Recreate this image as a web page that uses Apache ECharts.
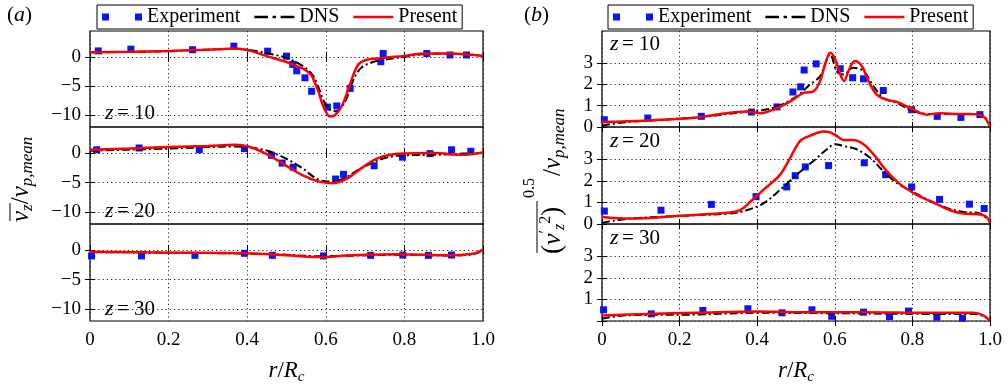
<!DOCTYPE html>
<html>
<head>
<meta charset="utf-8">
<script src="https://cdn.jsdelivr.net/npm/echarts@6/dist/echarts.min.js"></script>
<style>
html, body { margin: 0; padding: 0; background: #fff; }
#container { width: 1008px; height: 387px; }
</style>
</head>
<body>
<div id="container"></div>
<script>
var dom = document.getElementById('container');
var myChart = echarts.init(dom);

var FONT = 'Liberation Serif';

// axis ticks
var xTicks = [0, 0.2, 0.4, 0.6, 0.8, 1.0];
var ticksA = [-10, -5, 0];
var ticksB = [0, 1, 2, 3];
var ticksB3 = [1, 2, 3];
var zNames = ['10', '20', '30'];

// (a) mean axial velocity, z = 10
var aExp10 = [[0.021,1.0],[0.104,1.3],[0.261,1.2],[0.366,1.8],[0.452,0.95],[0.500,0.1],[0.516,-1.3],[0.526,-2.4],[0.547,-3.6],[0.564,-5.9],[0.604,-8.6],[0.628,-8.4],[0.662,-5.4],[0.740,-0.85],[0.746,0.55],[0.857,0.55],[0.916,0.3],[0.958,0.3]];
var aDns10 = [[0,0.75],[0.2,0.95],[0.369,1.35],[0.41,1.1],[0.45,0.6],[0.5,-0.2],[0.54,-1.5],[0.565,-3.0],[0.58,-5.0],[0.595,-7.6],[0.61,-9.0],[0.625,-9.3],[0.64,-8.6],[0.655,-6.8],[0.67,-4.0],[0.69,-1.9],[0.72,-0.9],[0.75,-0.5],[0.78,-0.2],[0.82,0.2],[0.86,0.5],[0.92,0.5],[0.96,0.4],[1.0,0.2]];
var aPre10 = [[0,0.75],[0.1,0.85],[0.2,1.0],[0.3,1.2],[0.369,1.4],[0.403,1.1],[0.45,0.1],[0.5,-0.9],[0.53,-1.7],[0.547,-2.2],[0.556,-2.7],[0.564,-3.2],[0.572,-4.4],[0.581,-5.9],[0.594,-8.5],[0.611,-10.2],[0.623,-10.0],[0.64,-8.5],[0.657,-5.6],[0.67,-3.1],[0.683,-1.3],[0.70,-0.6],[0.73,-0.3],[0.76,-0.1],[0.8,0.15],[0.852,0.55],[0.92,0.55],[0.96,0.4],[1.0,0.15]];

// (a) z = 20
var aExp20 = [[0.017,0.55],[0.125,0.85],[0.278,0.55],[0.393,0.75],[0.462,-0.4],[0.489,-1.7],[0.517,-2.4],[0.625,-4.4],[0.645,-3.6],[0.723,-2.15],[0.795,-0.7],[0.865,-0.1],[0.92,0.55],[0.969,0.3]];
var aDns20 = [[0,0.4],[0.2,0.75],[0.369,1.1],[0.445,0.5],[0.496,-0.85],[0.539,-2.5],[0.581,-4.5],[0.615,-4.8],[0.649,-4.2],[0.691,-2.5],[0.75,-0.85],[0.793,-0.4],[0.88,-0.3],[0.95,-0.1],[1.0,0.0]];
var aPre20 = [[0,0.55],[0.1,0.75],[0.2,1.0],[0.3,1.2],[0.369,1.4],[0.403,1.1],[0.445,0],[0.496,-2.0],[0.539,-3.7],[0.581,-4.8],[0.615,-5.1],[0.649,-4.5],[0.691,-2.55],[0.733,-0.85],[0.793,-0.1],[0.878,0],[0.946,-0.3],[1.0,0.1]];

// (a) z = 30
var aExp30 = [[0.004,-1.0],[0.131,-1.0],[0.267,-0.9],[0.393,-0.56],[0.464,-0.9],[0.594,-1.0],[0.714,-0.9],[0.796,-0.85],[0.861,-0.9],[0.92,-0.85]];
var aDns30 = [[0,-0.35],[0.2,-0.45],[0.4,-0.6],[0.5,-0.8],[0.58,-1.05],[0.666,-0.95],[0.79,-0.8],[0.92,-0.95],[0.965,-0.8],[0.985,-0.5],[1.0,0.05]];
var aPre30 = [[0,-0.3],[0.2,-0.45],[0.4,-0.56],[0.5,-0.9],[0.58,-1.2],[0.666,-0.9],[0.79,-0.73],[0.92,-0.9],[0.963,-0.73],[0.984,-0.45],[1.0,0.1]];

// (b) rms axial velocity, z = 10
var bExp10 = [[0.006,0.34],[0.118,0.42],[0.256,0.5],[0.385,0.7],[0.451,0.94],[0.492,1.64],[0.512,1.88],[0.521,2.67],[0.552,2.96],[0.614,2.73],[0.646,2.31],[0.674,2.26],[0.725,1.71],[0.798,0.81],[0.864,0.5],[0.925,0.45],[0.974,0.58]];
var bDns10 = [[0,0.06],[0.04,0.18],[0.116,0.3],[0.245,0.45],[0.373,0.72],[0.416,0.8],[0.451,0.95],[0.502,1.44],[0.536,1.99],[0.562,2.38],[0.588,3.4],[0.605,2.62],[0.622,2.46],[0.648,2.78],[0.674,2.62],[0.7,1.91],[0.725,1.36],[0.76,1.13],[0.8,0.76],[0.845,0.61],[0.93,0.61],[0.975,0.6],[1.0,0.1]];
var bPre10 = [[0,0.23],[0.116,0.31],[0.245,0.45],[0.373,0.73],[0.408,0.65],[0.451,0.89],[0.485,1.2],[0.519,1.6],[0.545,1.67],[0.562,2.15],[0.575,2.93],[0.588,3.48],[0.601,3.17],[0.614,2.46],[0.624,2.15],[0.635,2.62],[0.652,3.09],[0.67,2.85],[0.687,2.15],[0.708,1.52],[0.734,1.28],[0.76,1.17],[0.794,0.89],[0.837,0.58],[0.871,0.65],[0.906,0.61],[0.948,0.61],[0.979,0.54],[1.0,0.03]];

// (b) z = 20
var bExp20 = [[0.006,0.6],[0.152,0.64],[0.282,0.91],[0.397,1.27],[0.476,1.72],[0.498,2.24],[0.524,2.65],[0.584,2.71],[0.676,2.84],[0.731,2.29],[0.798,1.72],[0.87,1.14],[0.947,0.92],[0.985,0.72]];
var bDns20 = [[0,0.06],[0.073,0.25],[0.243,0.41],[0.33,0.49],[0.373,0.64],[0.416,0.96],[0.459,1.58],[0.502,2.29],[0.545,2.92],[0.579,3.46],[0.601,3.7],[0.622,3.62],[0.657,3.46],[0.691,3.07],[0.725,2.45],[0.76,1.9],[0.8,1.5],[0.845,1.07],[0.888,0.75],[0.931,0.56],[0.974,0.49],[1.0,0.09]];
var bPre20 = [[0,0.33],[0.073,0.25],[0.2,0.38],[0.33,0.53],[0.356,0.64],[0.382,1.03],[0.416,1.58],[0.459,2.29],[0.485,3.07],[0.511,3.86],[0.536,4.09],[0.571,4.29],[0.588,4.25],[0.605,4.09],[0.622,3.9],[0.648,3.9],[0.674,3.7],[0.7,3.23],[0.734,2.45],[0.768,1.85],[0.811,1.35],[0.854,1.0],[0.897,0.64],[0.931,0.49],[0.974,0.44],[0.991,0.33],[1.0,0.06]];

// (b) z = 30
var bExp30 = [[0.004,0.52],[0.127,0.33],[0.26,0.49],[0.376,0.57],[0.464,0.38],[0.541,0.52],[0.592,0.22],[0.674,0.41],[0.741,0.21],[0.79,0.46],[0.863,0.18],[0.929,0.13]];
var bDns30 = [[0,0.1],[0.056,0.26],[0.245,0.3],[0.4,0.38],[0.6,0.36],[0.845,0.33],[0.96,0.33],[0.985,0.2],[1.0,0.03]];
var bPre30 = [[0,0.26],[0.116,0.33],[0.245,0.38],[0.4,0.44],[0.502,0.41],[0.674,0.41],[0.845,0.38],[0.957,0.38],[0.983,0.26],[1.0,0.02]];

var panels = [
    {box: [90, 31, 393, 96], min: -12, max: 4.4, ticks: ticksA, labels: ticksA, exp: aExp10, dns: aDns10, pre: aPre10},
    {box: [90, 127, 393, 97], min: -12, max: 4.4, ticks: ticksA, labels: ticksA, exp: aExp20, dns: aDns20, pre: aPre20},
    {box: [90, 224, 393, 97], min: -12, max: 4.4, ticks: ticksA, labels: ticksA, exp: aExp30, dns: aDns30, pre: aPre30, bottom: true},
    {box: [602, 31, 388, 96], min: 0, max: 4.5, ticks: ticksB, labels: ticksB, exp: bExp10, dns: bDns10, pre: bPre10},
    {box: [602, 127, 388, 97], min: 0, max: 4.5, ticks: ticksB, labels: ticksB, exp: bExp20, dns: bDns20, pre: bPre20},
    {box: [602, 224, 388, 97], min: 0, max: 4.5, ticks: ticksB, labels: ticksB3, exp: bExp30, dns: bDns30, pre: bPre30, bottom: true}
];

var dotted = {color: '#222', width: 1, type: [1.2, 3]};
var tick = {show: true, inside: true, length: 5, lineStyle: {color: '#000', width: 1}};
var rich = {
    i: {fontFamily: FONT, fontStyle: 'italic', fontSize: 23, lineHeight: 28, color: '#000'},
    s: {fontFamily: FONT, fontStyle: 'italic', fontSize: 15, verticalAlign: 'bottom', color: '#000'}
};

var grids = [], xAxes = [], yAxes = [], series = [];
panels.forEach(function (p, i) {
    grids.push({left: p.box[0], top: p.box[1], width: p.box[2], height: p.box[3],
        show: true, borderColor: '#000', borderWidth: 1.2, backgroundColor: 'transparent'});
    xAxes.push({
        gridIndex: i, type: 'value', min: 0, max: 1, interval: 0.2, position: 'bottom',
        axisLine: {show: false}, axisTick: tick,
        axisLabel: {show: !!p.bottom, margin: 10, color: '#000', fontFamily: FONT, fontSize: 19,
            formatter: function (v) { return v === 0 ? '0' : v.toFixed(1); }},
        splitLine: {show: true, lineStyle: dotted},
        name: p.bottom ? '{i|r}{n|/}{i|R}{s|c}' : '', nameLocation: 'middle', nameGap: 36,
        nameTextStyle: {rich: {i: rich.i, s: rich.s, n: {fontFamily: FONT, fontSize: 23, color: '#000'}}}
    });
    xAxes.push({
        gridIndex: i, type: 'value', min: 0, max: 1, interval: 0.2, position: 'top',
        axisLine: {show: false}, axisTick: tick, axisLabel: {show: false}, splitLine: {show: false}
    });
    yAxes.push({
        gridIndex: i, type: 'value', min: p.min, max: p.max, position: 'left',
        axisLine: {show: false},
        axisTick: {show: true, inside: true, length: 5, lineStyle: {color: '#000'}, customValues: p.ticks},
        axisLabel: {customValues: p.labels, margin: 9, color: '#000', fontFamily: FONT, fontSize: 19,
            formatter: function (v) { return v < 0 ? '\u2212' + (-v) : String(v); }},
        splitLine: {show: true, lineStyle: dotted}
    });
    yAxes.push({
        gridIndex: i, type: 'value', min: p.min, max: p.max, position: 'right',
        axisLine: {show: false},
        axisTick: {show: true, inside: true, length: 5, lineStyle: {color: '#000'}, customValues: p.ticks},
        axisLabel: {show: false}, splitLine: {show: false}
    });
    series.push({
        name: 'Experiment', type: 'scatter', xAxisIndex: 2 * i, yAxisIndex: 2 * i,
        symbol: 'rect', symbolSize: 7, itemStyle: {color: '#0a14f5', opacity: 1}, z: 2, data: p.exp
    });
    series.push({
        name: 'DNS', type: 'line', xAxisIndex: 2 * i, yAxisIndex: 2 * i, smooth: 0.35,
        symbol: 'none', lineStyle: {color: '#000', width: 2, type: [8, 3, 2, 3]},
        itemStyle: {color: '#000'}, z: 3, data: p.dns
    });
    series.push({
        name: 'Present', type: 'line', xAxisIndex: 2 * i, yAxisIndex: 2 * i, smooth: 0.35,
        symbol: 'none', lineStyle: {color: '#ff0000', width: 2.5},
        itemStyle: {color: '#ff0000'}, z: 4, data: p.pre
    });
});

var legendBase = {
    top: 5, orient: 'horizontal', itemGap: 14, itemWidth: 40, itemHeight: 7,
    padding: [2, 5], borderColor: '#000', borderWidth: 1, selectedMode: false,
    textStyle: {fontFamily: FONT, fontSize: 20, color: '#000'},
    data: [
        {name: 'Experiment', icon: 'path://M0,0h7v7h-7z M33,0h7v7h-7z'},
        {name: 'DNS', icon: 'path://M0,0h12v2h-12z M16,0h3v2h-3z M23,0h12v2h-12z'},
        {name: 'Present', icon: 'path://M0,0h40v2.5h-40z'}
    ]
};

var zRich = {
    i: {fontFamily: FONT, fontStyle: 'italic', fontSize: 22, color: '#000'},
    n: {fontFamily: FONT, fontSize: 21, color: '#000'}
};
var graphics = [
    {type: 'text', left: 7, top: 4, style: {text: '{n|(}{i|a}{n|)}', rich: zRich}},
    {type: 'text', left: 524, top: 4, style: {text: '{n|(}{i|b}{n|)}', rich: zRich}}
];
var zPosA = [113.5, 211.5, 309];
var zPosB = [44.5, 141.5, 238.5];
zNames.forEach(function (n, k) {
    graphics.push({type: 'text', x: 105, y: zPosA[k],
        style: {text: '{i|z} {n|= ' + n + '}', rich: zRich, verticalAlign: 'middle'}});
    graphics.push({type: 'text', x: 610, y: zPosB[k],
        style: {text: '{i|z} {n|= ' + n + '}', rich: zRich, verticalAlign: 'middle'}});
});

var tRich = {
    v: {fontFamily: FONT, fontStyle: 'italic', fontSize: 25, lineHeight: 30, color: '#000'},
    n: {fontFamily: FONT, fontSize: 25, lineHeight: 30, color: '#000'},
    s: {fontFamily: FONT, fontStyle: 'italic', fontSize: 17, verticalAlign: 'bottom', color: '#000'},
    u: {fontFamily: FONT, fontSize: 16, verticalAlign: 'top', color: '#000'}
};
var tRichB = {
    v: {fontFamily: FONT, fontStyle: 'italic', fontSize: 26, lineHeight: 30, color: '#000'},
    n: {fontFamily: FONT, fontSize: 27, lineHeight: 30, color: '#000'},
    s: {fontFamily: FONT, fontStyle: 'italic', fontSize: 16, verticalAlign: 'bottom', color: '#000'},
    u: {fontFamily: FONT, fontSize: 16, verticalAlign: 'top', color: '#000'}
};
// y title (a)
graphics.push({
    type: 'group', x: 21, y: 222, rotation: Math.PI / 2,
    children: [
        {type: 'text', x: 0, y: 0, style: {text: '{v|v}{s|z}{n|/}{v|v}{s|p,mean}', rich: tRich, verticalAlign: 'middle', align: 'left'}},
        {type: 'line', shape: {x1: 1, y1: -11, x2: 19, y2: -11}, style: {stroke: '#000', lineWidth: 1}}
    ]
});
// y title (b)
graphics.push({
    type: 'group', x: 553, y: 254, rotation: Math.PI / 2,
    children: [
        {type: 'text', x: 0, y: 0, style: {text: '{n|(}{v|v}{u|\u2032}{s|z}{u|2}{n|)}', rich: tRichB, verticalAlign: 'middle', align: 'left'}},
        {type: 'line', shape: {x1: 1, y1: -16, x2: 53, y2: -16}, style: {stroke: '#000', lineWidth: 1}},
        {type: 'text', x: 56, y: -23, style: {text: '0.5', fontFamily: FONT, fontSize: 16, fill: '#000', verticalAlign: 'middle', align: 'left'}},
        {type: 'text', x: 78, y: 0, style: {text: '{n|/}{v|v}{s|p,mean}', rich: tRich, verticalAlign: 'middle', align: 'left'}}
    ]
});

option = {
    animation: false,
    backgroundColor: '#fff',
    legend: [
        Object.assign({}, legendBase, {left: 97}),
        Object.assign({}, legendBase, {left: 608})
    ],
    grid: grids,
    xAxis: xAxes,
    yAxis: yAxes,
    series: series,
    graphic: graphics
};
if (option && typeof option === 'object') {
    myChart.setOption(option, true);
}
</script>
</body>
</html>
